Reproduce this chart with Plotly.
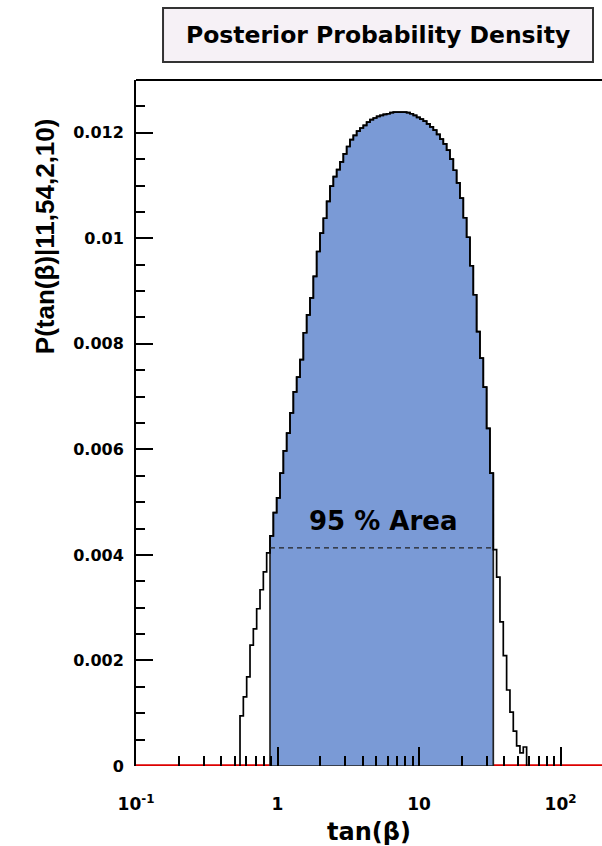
import numpy as np
import plotly.graph_objects as go

# ---- data ----
# log10-uniform binning of tan(beta)
BIN_LO_LOG = -0.265
BIN_WIDTH_LOG = 0.02355
# posterior density per bin, in units of 1e-4
density_e4 = [
    9.5, 13.1, 16.9, 22.9, 26.0, 29.8, 33.4, 36.8, 40.4,
    43.6, 48.0, 50.8, 55.5, 59.7, 63.1, 66.9, 70.9, 73.7, 77.0,
    82.1, 85.5, 88.7, 92.8, 97.5, 101.0, 103.8, 107.0, 109.9, 111.7,
    113.0, 114.5, 116.0, 117.4, 118.7, 119.5, 120.3, 120.9, 121.4, 122.0,
    122.5, 122.8, 123.1, 123.3, 123.5, 123.6, 123.8, 123.9, 123.9, 123.9,
    123.9, 123.8, 123.6, 123.3, 122.9, 122.6, 122.2, 121.7, 121.1, 120.5,
    119.7, 118.8, 117.9, 116.7, 115.0, 112.9, 110.5, 107.6, 103.9, 100.2,
    94.8, 89.3, 82.3, 77.3, 71.8, 64.0, 55.5, 41.0, 35.8, 27.3, 20.9,
    14.4, 10.2, 6.6, 3.8, 2.5, 3.6,
]
# bins inside the 95 % credible region (first, last inclusive)
HPD_FIRST, HPD_LAST = 9, 75
threshold = 0.004133

x_range_log = [-1, 2.293]
y_range = [0, 0.013]
x_major = [0.1, 1, 10, 100]
x_major_text = ["10<sup>-1</sup>", "1", "10", "10<sup>2</sup>"]
x_minor = [m * d for d in [0.1, 1, 10, 100] for m in range(2, 10)]
y_major = [0, 0.002, 0.004, 0.006, 0.008, 0.010, 0.012]
y_major_text = ["0", "0.002", "0.004", "0.006", "0.008", "0.01", "0.012"]
y_minor = [round(0.0005 * k, 5) for k in range(0, 27)]

# ---- build ----
vals = np.array(density_e4) * 1e-4
n = len(vals)
edges = 10 ** (BIN_LO_LOG + BIN_WIDTH_LOG * np.arange(n + 1))


def step_path(e, v):
    xs = [e[0]] + list(e[:-1]) + [e[-1]]
    ys = [0.0] + list(v) + [0.0]
    return xs, ys


fig = go.Figure()

# red baseline (zero-content histogram line)
fig.add_trace(go.Scatter(
    x=[10 ** x_range_log[0], 10 ** x_range_log[1]], y=[0, 0],
    mode="lines", line=dict(color="#dd0000", width=3.5),
    hoverinfo="skip", showlegend=False))

# filled 95 % region
he = edges[HPD_FIRST:HPD_LAST + 2]
hv = vals[HPD_FIRST:HPD_LAST + 1]
bx, by = step_path(he, hv)
bx = bx + [he[0]]
by = by + [0.0]
fig.add_trace(go.Scatter(
    x=bx, y=by, mode="lines", line=dict(color="#222222", width=1.7, shape="hv"),
    fill="toself", fillcolor="#7a9ad6", hoverinfo="skip", showlegend=False))

# full outline
ox, oy = step_path(edges, vals)
fig.add_trace(go.Scatter(
    x=ox, y=oy, mode="lines", line=dict(color="black", width=1.7, shape="hv"),
    hoverinfo="skip", showlegend=False))

# threshold dashed line
fig.add_trace(go.Scatter(
    x=[edges[HPD_FIRST], edges[HPD_LAST + 1]], y=[threshold, threshold],
    mode="lines", line=dict(color="#222222", width=1.2, dash="5px,4px"),
    hoverinfo="skip", showlegend=False))

bold = dict(family="DejaVu Sans", color="black", weight="bold")

fig.update_layout(
    width=602, height=846,
    margin=dict(l=136, r=0, t=80, b=80),
    paper_bgcolor="white", plot_bgcolor="white",
    showlegend=False,
    xaxis=dict(
        type="log", range=x_range_log, automargin=False,
        tickmode="array", tickvals=x_major, ticktext=x_major_text,
        ticks="inside", ticklen=19, tickwidth=1.5, tickcolor="black",
        minor=dict(tickmode="array", tickvals=x_minor, ticks="inside",
                   ticklen=10, tickwidth=1.5, tickcolor="black", showgrid=False),
        showgrid=False, zeroline=False, showline=False,
        ticklabelstandoff=26,
        tickfont=dict(size=17, **bold),
    ),
    yaxis=dict(
        range=y_range, automargin=False,
        tickmode="array", tickvals=y_major, ticktext=y_major_text,
        ticks="inside", ticklen=17, tickwidth=1.5, tickcolor="black",
        minor=dict(tickmode="array", tickvals=y_minor, ticks="inside",
                   ticklen=9, tickwidth=1.5, tickcolor="black", showgrid=False),
        showgrid=False, zeroline=False,
        showline=True, linecolor="black", linewidth=2,
        ticklabelstandoff=7,
        tickfont=dict(size=16, **bold),
    ),
    shapes=[
        # top frame line
        dict(type="line", xref="paper", yref="paper", x0=0, x1=1, y0=1, y1=1,
             line=dict(color="black", width=2)),
        # title box
        dict(type="rect", xref="paper", yref="paper",
             x0=0.058, x1=0.9807, y0=1.0262, y1=1.105,
             fillcolor="#f6f1f6", line=dict(color="#333333", width=2)),
    ],
    annotations=[
        dict(text="Posterior Probability Density", xref="paper", yref="paper",
             x=0.519, y=1.0656, xanchor="center", yanchor="middle",
             showarrow=False, font=dict(size=23.5, **bold)),
        dict(text="95 % Area", xref="x", yref="y", x=0.7456, y=0.00465,
             xanchor="center", yanchor="middle", showarrow=False,
             font=dict(size=26, **bold)),
        dict(text="tan(β)", xref="paper", yref="paper", x=0.5, y=-0.096,
             xanchor="center", yanchor="middle", showarrow=False,
             font=dict(size=24, **bold)),
        dict(text="P(tan(β)|11,54,2,10)", xref="paper", yref="paper",
             x=-0.195, y=0.7726, xanchor="center", yanchor="middle",
             textangle=-90, showarrow=False,
             font=dict(family="Liberation Sans", size=26,
                       color="black", weight="bold")),
    ],
)

fig.write_html("out.html")
